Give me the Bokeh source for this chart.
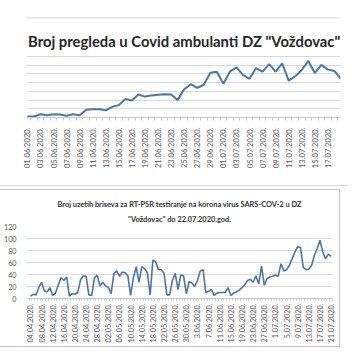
import math
from bokeh.plotting import figure
from bokeh.models import Range1d, FixedTicker, Span, Label, Title, ColumnDataSource
from bokeh.layouts import column
from bokeh.embed import file_html
from bokeh.resources import INLINE

# ---------------- data ----------------
top_title = 'Broj pregleda u Covid ambulanti DZ "Voždovac"'
top_labels = ["01.06.2020.", "03.06.2020.", "05.06.2020.", "07.06.2020.", "09.06.2020.",
              "11.06.2020.", "13.06.2020.", "15.06.2020.", "17.06.2020.", "19.06.2020.",
              "21.06.2020.", "23.06.2020.", "25.06.2020.", "27.06.2020.", "29.06.2020.",
              "01.07.2020.", "03.07.2020.", "05.07.2020.", "07.07.2020.", "09.07.2020.",
              "11.07.2020.", "13.07.2020.", "15.07.2020.", "17.07.2020.", "19.07.2020."]
top_values = [6, 6, 19, 13, 18, 17, 10, 19, 13, 44,
              47, 47, 41, 61, 71, 106, 98, 132, 120, 127,
              131, 134, 132, 101, 162, 191, 170, 188, 257, 263,
              194, 263, 288, 245, 222, 284, 263, 307, 263, 311,
              212, 237, 273, 325, 256, 302, 275, 267, 222]
top_grid_ticks = [0, 50, 100, 150, 200, 250, 300, 350]

bot_title_1 = "Broj uzetih briseva za RT-PSR testiranje na korona virus SARS-COV-2 u DZ"
bot_title_2 = '"Voždovac" do 22.07.2020.god.'
bot_labels = ["04.04.2020.", "08.04.2020.", "12.04.2020.", "16.04.2020.", "20.04.2020.",
              "24.04.2020.", "28.04.2020.", "02.05.2020.", "06.05.2020.", "10.05.2020.",
              "14.05.2020.", "18.05.2020.", "22.05.2020.", "26.05.2020.", "30.05.2020.",
              "3.06.2020.", "7.06.2020.", "11.06.2020.", "15.06.2020.", "19.06.2020.",
              "23.06.2020.", "27.06.2020.", "1.07.2020.", "5.07.2020.", "9.07.2020.",
              "13.07.2020.", "17.07.2020.", "21.07.2020."]
bot_values = [4, 7, 6, 18, 27, 13, 11, 18, 5, 9,
              22, 35, 30, 36, 4, 8, 7, 10, 31, 38,
              37, 6, 5, 34, 39, 21, 27, 21, 18, 8,
              42, 46, 37, 44, 43, 38, 5, 35, 53, 27,
              53, 50, 43, 6, 64, 61, 48, 48, 42, 6,
              6, 30, 42, 15, 39, 38, 8, 28, 26, 20,
              30, 46, 48, 10, 12, 15, 5, 9, 10, 10,
              10, 18, 5, 9, 11, 14, 18, 23, 30, 32,
              27, 38, 24, 54, 22, 33, 36, 37, 39, 37,
              58, 46, 48, 55, 66, 78, 86, 85, 52, 48,
              49, 55, 72, 83, 97, 78, 66, 74, 70]
bot_y_ticks = [0, 20, 40, 60, 80, 100, 120]

FONT = "Lato"
LINE = "#4a76a8"
GRID = "#d9d9d9"
TXT = "#595959"

# ---------------- top chart ----------------
p1 = figure(width=348, height=186, output_backend="svg", toolbar_location=None,
            x_range=Range1d(-0.14, 47.93), y_range=Range1d(0, 580),
            min_border_left=0, min_border_right=0, min_border_top=16, min_border_bottom=69,
            title=None, styles={"border-bottom": "1px solid #d9d9d9"})
p1.outline_line_color = None
p1.background_fill_color = "white"
p1.border_fill_color = "white"

src1 = ColumnDataSource(dict(x=list(range(len(top_values))), y=top_values))
p1.line("x", "y", source=src1, line_color=LINE, line_width=2)

p1.yaxis.visible = False
p1.ygrid.ticker = FixedTicker(ticks=top_grid_ticks)
p1.ygrid.grid_line_color = GRID
p1.xgrid.grid_line_color = None

n1 = len(top_values)
p1.xaxis.ticker = FixedTicker(ticks=[2 * i for i in range(len(top_labels))],
                              minor_ticks=[k - 0.5 for k in range(n1 + 1)])
p1.xaxis.major_label_overrides = {2 * i: lab for i, lab in enumerate(top_labels)}
p1.xaxis.major_label_orientation = math.pi / 2
p1.xaxis.major_label_text_font = FONT
p1.xaxis.major_label_text_font_size = "7.6px"
p1.xaxis.major_label_text_color = TXT
p1.xaxis.major_label_standoff = 7
p1.xaxis.axis_line_color = "#c8c8c8"
p1.xaxis.major_tick_out = 0
p1.xaxis.major_tick_in = 0
p1.xaxis.minor_tick_out = 3
p1.xaxis.minor_tick_in = 0
p1.xaxis.minor_tick_line_color = "#c8c8c8"

p1.add_layout(Span(location=572, dimension="width", line_color=GRID, line_width=1))
p1.add_layout(Label(x=24.0, y=439, text=top_title, text_align="center",
                    text_baseline="alphabetic", text_font=FONT, text_font_size="14.8px",
                    text_font_style="bold", text_color="#262626"))

# ---------------- bottom chart ----------------
p2 = figure(width=340, height=158, output_backend="svg", toolbar_location=None,
            x_range=Range1d(-1.4, 108.5), y_range=Range1d(0, 120),
            min_border_left=21, min_border_right=8, min_border_top=36, min_border_bottom=50,
            title=None,
            styles={"border-top": "1px solid #c4c4c4", "border-right": "1px solid #c4c4c4",
                    "border-bottom": "1px solid #c4c4c4", "margin-top": "3px"})
p2.outline_line_color = None

src2 = ColumnDataSource(dict(x=list(range(len(bot_values))), y=bot_values))
p2.line("x", "y", source=src2, line_color=LINE, line_width=1.6)

p2.yaxis.ticker = FixedTicker(ticks=bot_y_ticks)
p2.yaxis.axis_line_color = None
p2.yaxis.major_tick_line_color = None
p2.yaxis.minor_tick_line_color = None
p2.yaxis.major_label_text_font = FONT
p2.yaxis.major_label_text_font_size = "7.2px"
p2.yaxis.major_label_text_color = TXT
p2.yaxis.major_label_standoff = 4
p2.ygrid.grid_line_color = GRID
p2.xgrid.grid_line_color = None

n2 = len(bot_values)
p2.xaxis.ticker = FixedTicker(ticks=[4 * i for i in range(len(bot_labels))],
                              minor_ticks=[k - 0.5 for k in range(n2 + 1)])
p2.xaxis.major_label_overrides = {4 * i: lab for i, lab in enumerate(bot_labels)}
p2.xaxis.major_label_orientation = math.pi / 2
p2.xaxis.major_label_text_font = FONT
p2.xaxis.major_label_text_font_size = "7.3px"
p2.xaxis.major_label_text_color = TXT
p2.xaxis.major_label_standoff = 3
p2.xaxis.axis_line_color = "#c8c8c8"
p2.xaxis.major_tick_out = 0
p2.xaxis.major_tick_in = 0
p2.xaxis.minor_tick_out = 2
p2.xaxis.minor_tick_in = 0
p2.xaxis.minor_tick_line_color = "#c8c8c8"

t2 = Title(text=bot_title_2, align="center", offset=-7, standoff=6, text_font=FONT,
           text_font_size="7.4px", text_font_style="bold", text_color="#333333")
p2.add_layout(t2, "above")
t1 = Title(text=bot_title_1, align="center", offset=-7, standoff=1, text_font=FONT,
           text_font_size="7.4px", text_font_style="bold", text_color="#333333")
p2.add_layout(t1, "above")

layout = column(p1, p2, spacing=0)
open("out.html", "w").write(file_html(layout, INLINE))
